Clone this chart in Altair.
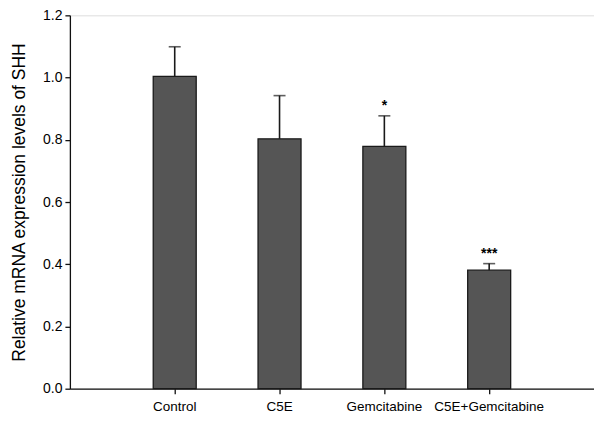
import altair as alt
import pandas as pd

groups = ["Control", "C5E", "Gemcitabine", "C5E+Gemcitabine"]
means = [1.004, 0.803, 0.779, 0.381]
errors = [0.095, 0.139, 0.098, 0.021]
marks = ["", "", "*", "***"]

df = pd.DataFrame({"group": groups, "mean": means, "err": errors, "sig": marks})
df["top"] = df["mean"] + df["err"]

font = "Liberation Sans"
xenc = alt.X("group:N", sort=groups, title=None,
             scale=alt.Scale(paddingInner=0.59, paddingOuter=0.795),
             axis=alt.Axis(labelAngle=0, labelFont=font, labelFontSize=13.5, labelColor="black",
                           domainColor="#111111", tickColor="#111111", tickSize=5, labelPadding=6,
                           domainWidth=1.3, tickWidth=1.3))
yscale = alt.Scale(domain=[0, 1.2], nice=False)

bars = alt.Chart(df).mark_bar(color="#555555", stroke="#1a1a1a", strokeWidth=1.3).encode(
    x=xenc,
    y=alt.Y("mean:Q", scale=yscale, title="Relative mRNA expression levels of SHH",
            axis=alt.Axis(values=[0, 0.2, 0.4, 0.6, 0.8, 1.0, 1.2], format=".1f", grid=False,
                          labelFont=font, labelFontSize=14, labelColor="black", labelPadding=3,
                          titleFont=font, titleFontSize=17.5, titleFontWeight="normal",
                          titleColor="black", titlePadding=14,
                          domainColor="#111111", tickColor="#111111", tickSize=5,
                          domainWidth=1.3, tickWidth=1.3)),
)

rules = alt.Chart(df).mark_rule(color="#1a1a1a", strokeWidth=1.6).encode(
    x=alt.X("group:N", sort=groups),
    y=alt.Y("mean:Q", scale=yscale),
    y2="top:Q",
)

caps = alt.Chart(df).mark_tick(color="#1a1a1a", thickness=1.6, size=12, orient="horizontal").encode(
    x=alt.X("group:N", sort=groups),
    y=alt.Y("top:Q", scale=yscale),
)

stars = alt.Chart(df).mark_text(font=font, fontSize=14, fontWeight="bold", color="black", dy=-3, baseline="bottom").encode(
    x=alt.X("group:N", sort=groups),
    y=alt.Y("top:Q", scale=yscale),
    text="sig:N",
)

chart = alt.layer(bars, rules, caps, stars).properties(
    width=525, height=374,
    autosize=alt.AutoSizeParams(type="none"),
    padding={"left": 62, "top": 7, "right": 0, "bottom": 30},
).configure_view(stroke=None).configure(background="white")

chart.save("out.html", embed_options={"renderer": "svg", "actions": False})
